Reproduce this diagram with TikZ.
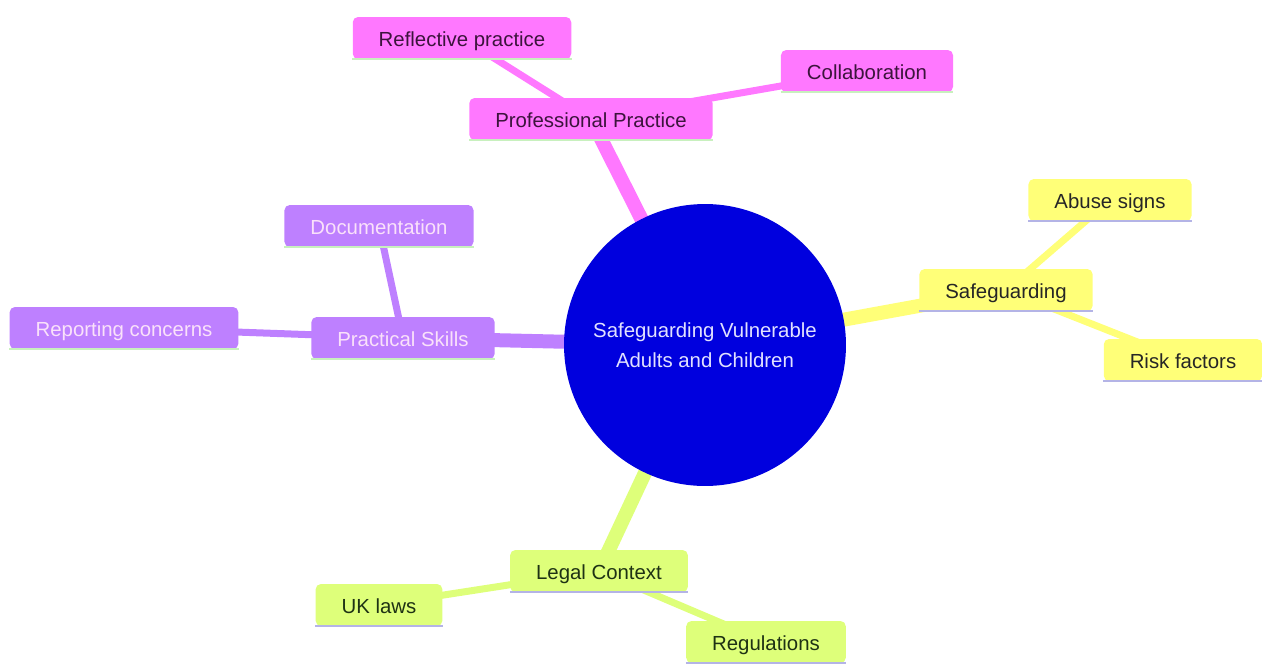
\documentclass[tikz,border=0pt]{standalone}
\usepackage{fontspec}
\setmainfont{Liberation Sans}
\usetikzlibrary{backgrounds}
\definecolor{mmblue}{RGB}{0,0,222}
\definecolor{mmpink}{RGB}{255,120,255}
\definecolor{mmpurple}{RGB}{190,128,255}
\definecolor{mmyellow}{RGB}{255,255,120}
\definecolor{mmlime}{RGB}{222,255,122}
\definecolor{barlime}{RGB}{200,240,190}
\definecolor{barlav}{RGB}{180,180,230}

\begin{document}
\begin{tikzpicture}[
    x=0.02cm, y=-0.02cm,
    every node/.style={font=\fontsize{11.6}{17}\selectfont},
    box/.style={rounded corners=3pt, minimum height=0.84cm, inner xsep=0.52cm, inner ysep=0pt,
      text height=1.9ex, text depth=0.1ex, align=center},
    bar/.style={append after command={(\tikzlastnode.south west) edge[draw=#1, line width=1.3pt] (\tikzlastnode.south east)}},
    pk/.style={box, fill=mmpink, text={rgb,255:red,60;green,20;blue,60}, bar=barlime},
    pu/.style={box, fill=mmpurple, text={rgb,255:red,250;green,225;blue,250}, bar=barlime},
    ye/.style={box, fill=mmyellow, text=black!85, bar=barlav},
    li/.style={box, fill=mmlime, text={rgb,255:red,30;green,50;blue,20}, bar=barlav},
    trunk/.style={line width=14*0.02cm},
    twig/.style={line width=7*0.02cm}
  ]
  \useasboundingbox (0,0) rectangle (1262,667);

  % root
  \node[circle, fill=mmblue, minimum size=5.64cm, inner sep=0pt, align=center,
        text={rgb,255:red,225;green,225;blue,255}] (root) at (705,345)
        {Safeguarding Vulnerable\\Adults and Children};

  % Professional Practice
  \node[pk] (prof) at (591,119) {Professional Practice};
  \node[pk] (refl) at (462,38) {Reflective practice};
  \node[pk] (coll) at (867,71) {Collaboration};

  % Safeguarding
  \node[ye] (safe) at (1006,290) {Safeguarding};
  \node[ye] (abuse) at (1110,200) {Abuse signs};
  \node[ye] (risk) at (1183,360) {Risk factors};

  % Practical Skills
  \node[pu] (prac) at (403,338) {Practical Skills};
  \node[pu] (docu) at (379,226) {Documentation};
  \node[pu] (repo) at (124,328) {Reporting concerns};

  % Legal Context
  \node[li] (legal) at (599,571) {Legal Context};
  \node[li] (uk) at (379,605) {UK laws};
  \node[li] (regs) at (766,642) {Regulations};

  \begin{scope}[on background layer]
    \draw[trunk, mmpink] (root.center) -- (prof.center);
    \draw[trunk, mmyellow] (root.center) -- (safe.center);
    \draw[trunk, mmpurple] (root.center) -- (prac.center);
    \draw[trunk, mmlime] (root.center) -- (legal.center);

    \draw[twig, mmpink] (prof.center) -- (refl.center);
    \draw[twig, mmpink] (prof.center) -- (coll.center);
    \draw[twig, mmyellow] (safe.center) -- (abuse.center);
    \draw[twig, mmyellow] (safe.center) -- (risk.center);
    \draw[twig, mmpurple] (prac.center) -- (docu.center);
    \draw[twig, mmpurple] (prac.center) -- (repo.center);
    \draw[twig, mmlime] (legal.center) -- (uk.center);
    \draw[twig, mmlime] (legal.center) -- (regs.center);
  \end{scope}
\end{tikzpicture}
\end{document}
